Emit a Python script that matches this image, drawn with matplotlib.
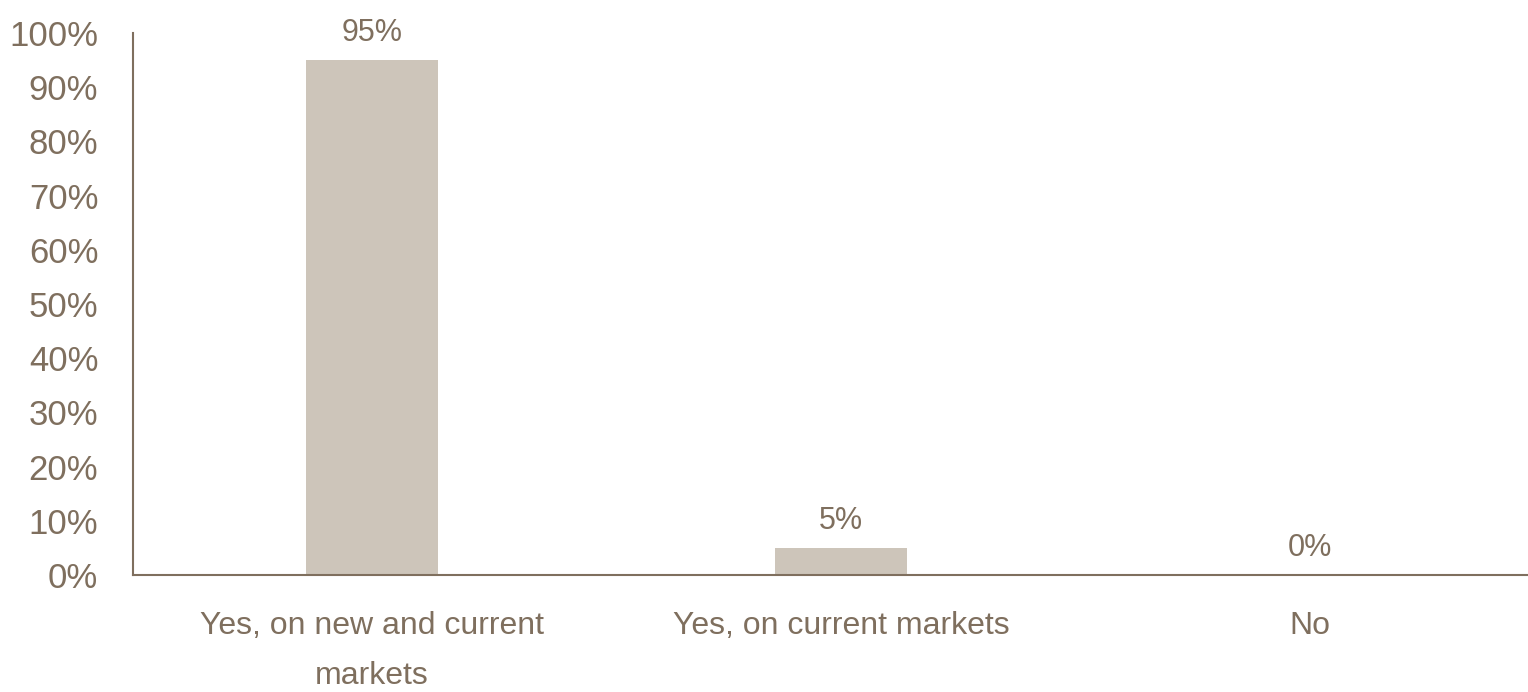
import matplotlib
matplotlib.use('Agg')
import matplotlib.pyplot as plt
from matplotlib import font_manager

categories = ['Yes, on new and current\nmarkets', 'Yes, on current markets', 'No']
values = [95, 5, 0]
ticks = [0, 10, 20, 30, 40, 50, 60, 70, 80, 90, 100]

names = {f.name for f in font_manager.fontManager.ttflist}
fam = 'Liberation Sans Narrow' if 'Liberation Sans Narrow' in names else 'Liberation Sans'
plt.rcParams['font.family'] = [fam, 'DejaVu Sans']

txt = '#7F6F5E'
bar_c = '#CDC5BA'

W, H = 1528, 692
fig = plt.figure(figsize=(W/100, H/100), dpi=100)
ax = fig.add_axes([133/W, (H-575)/H, (W-133)/W, (575-33)/H])

x = list(range(len(categories)))
ax.bar(x, values, width=0.28, color=bar_c)
for xi, v in zip(x, values):
    ax.text(xi, v + 2.2, f'{v}%', ha='center', va='bottom', fontsize=22, color=txt)

ax.set_xlim(-0.51, 2.465)
ax.set_ylim(0, 100)
ax.set_yticks(ticks)
ax.set_yticklabels([f'{t}%' for t in ticks])
ax.set_xticks(x)
ax.set_xticklabels(categories, linespacing=1.85)
ax.tick_params(axis='y', length=0, pad=25, labelsize=25, labelcolor=txt)
ax.tick_params(axis='x', length=0, pad=26, labelsize=23, labelcolor=txt)
for s in ['top', 'right']:
    ax.spines[s].set_visible(False)
for s in ['left', 'bottom']:
    ax.spines[s].set_color(txt)
    ax.spines[s].set_linewidth(1.5)

fig.savefig('out.png', dpi=100)
